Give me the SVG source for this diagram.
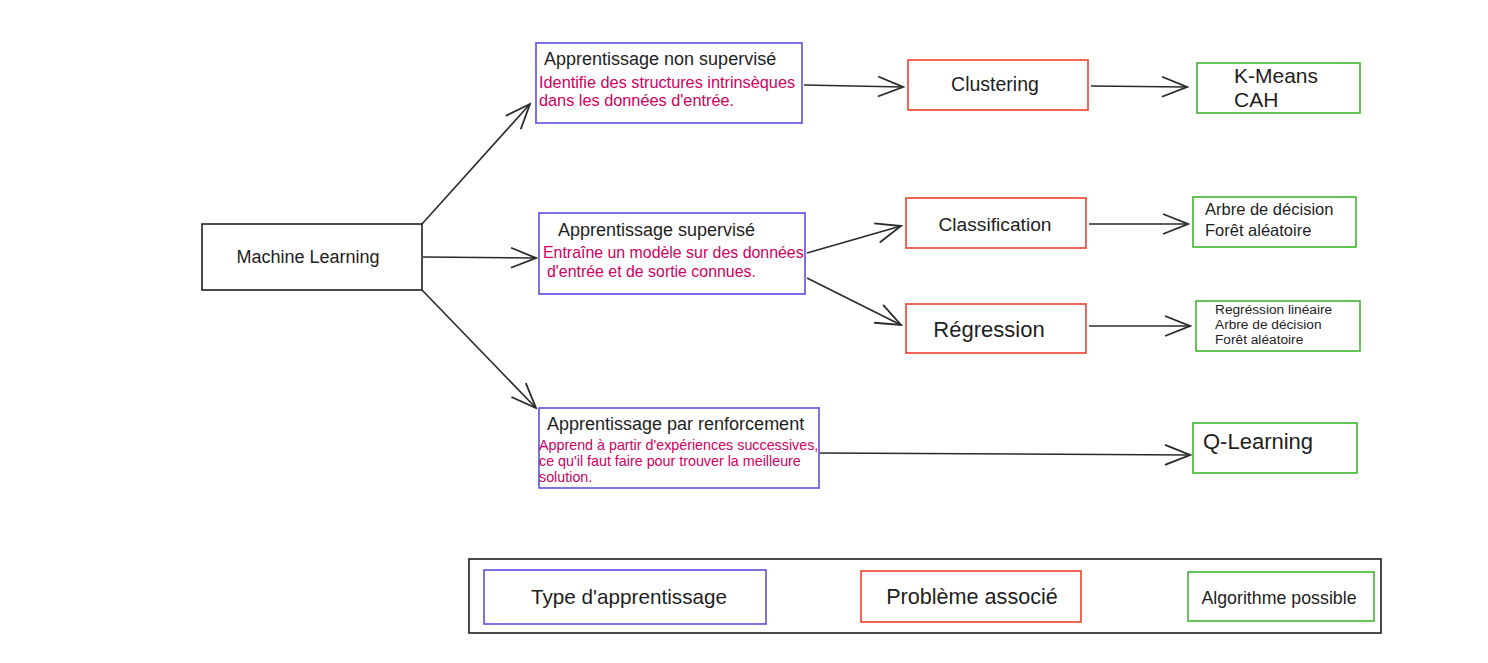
<svg xmlns="http://www.w3.org/2000/svg" width="1488" height="663" viewBox="0 0 1488 663">
<defs>
<style>
text{font-family:"Liberation Sans",Arial,sans-serif;fill:#1e1e1e}
.desc{fill:#d1005e}
.node{fill:none;stroke-width:1.6}
.k{stroke:#1e1e1e}
.b{stroke:#5a4fe0}
.r{stroke:#f0402e}
.g{stroke:#3fb52e}
.mid{text-anchor:middle}
.conn path{fill:none;stroke:#2a2a2a;stroke-width:1.6}
</style>
<marker id="ah" viewBox="-26 -13 28 26" refX="0" refY="0" markerWidth="28" markerHeight="26" markerUnits="userSpaceOnUse" orient="auto">
<path d="M -25 -10 L 0 0 L -25 10" fill="none" stroke="#2a2a2a" stroke-width="1.8"/>
</marker>
</defs>
<rect width="1488" height="663" fill="#ffffff"/>

<g id="connectors" class="conn">
<path d="M 422 224 L 530 104" marker-end="url(#ah)"/>
<path d="M 423 257 L 536 258" marker-end="url(#ah)"/>
<path d="M 422 290 L 536 408" marker-end="url(#ah)"/>
<path d="M 804 85 L 903 87" marker-end="url(#ah)"/>
<path d="M 1091 86 L 1187 87" marker-end="url(#ah)"/>
<path d="M 807 253 L 901 226" marker-end="url(#ah)"/>
<path d="M 807 278 L 901 325" marker-end="url(#ah)"/>
<path d="M 1089 224 L 1188 224" marker-end="url(#ah)"/>
<path d="M 1089 326 L 1190 326" marker-end="url(#ah)"/>
<path d="M 820 453 L 1190 455" marker-end="url(#ah)"/>
</g>

<g id="machine-learning">
<rect class="node k" x="202" y="224" width="220" height="66"/>
<text class="mid" x="308" y="263" font-size="18">Machine Learning</text>
</g>

<g id="non-supervise">
<rect class="node b" x="536" y="43" width="266" height="80"/>
<text x="544" y="65" font-size="18">Apprentissage non supervisé</text>
<text class="desc" x="539" y="88" font-size="16.3">Identifie des structures intrinsèques</text>
<text class="desc" x="539" y="106" font-size="16.3">dans les données d'entrée.</text>
</g>

<g id="supervise">
<rect class="node b" x="539" y="213" width="266" height="81"/>
<text x="558" y="236" font-size="18">Apprentissage supervisé</text>
<text class="desc" x="543" y="258" font-size="15.9">Entraîne un modèle sur des données</text>
<text class="desc" x="547" y="277" font-size="15.9">d'entrée et de sortie connues.</text>
</g>

<g id="renforcement">
<rect class="node b" x="539" y="408" width="280" height="80"/>
<text x="547" y="430" font-size="18">Apprentissage par renforcement</text>
<text class="desc" x="539" y="450" font-size="14.3">Apprend à partir d'expériences successives,</text>
<text class="desc" x="539" y="466" font-size="14.3">ce qu'il faut faire pour trouver la meilleure</text>
<text class="desc" x="539" y="482" font-size="14.3">solution.</text>
</g>

<g id="clustering">
<rect class="node r" x="908" y="60" width="180" height="50"/>
<text class="mid" x="995" y="91" font-size="19.5">Clustering</text>
</g>

<g id="classification">
<rect class="node r" x="906" y="198" width="180" height="50"/>
<text class="mid" x="995" y="231" font-size="19.2">Classification</text>
</g>

<g id="regression">
<rect class="node r" x="906" y="304" width="180" height="49"/>
<text class="mid" x="989" y="337" font-size="22">Régression</text>
</g>

<g id="kmeans">
<rect class="node g" x="1197" y="63" width="163" height="50"/>
<text x="1234" y="83" font-size="21">K-Means</text>
<text x="1234" y="107" font-size="21">CAH</text>
</g>

<g id="arbre-foret">
<rect class="node g" x="1193" y="197" width="163" height="50"/>
<text x="1205" y="215" font-size="16.5">Arbre de décision</text>
<text x="1205" y="236" font-size="16.5">Forêt aléatoire</text>
</g>

<g id="regression-algos">
<rect class="node g" x="1196" y="301" width="164" height="50"/>
<text x="1215" y="314" font-size="13.7">Regréssion linéaire</text>
<text x="1215" y="329" font-size="13.7">Arbre de décision</text>
<text x="1215" y="344" font-size="13.7">Forêt aléatoire</text>
</g>

<g id="q-learning">
<rect class="node g" x="1193" y="423" width="164" height="50"/>
<text x="1203" y="449" font-size="22">Q-Learning</text>
</g>

<g id="legend">
<rect class="node k" x="469" y="559" width="912" height="74"/>
<rect class="node b" x="484" y="570" width="282" height="54"/>
<text class="mid" x="629" y="604" font-size="20.7">Type d'apprentissage</text>
<rect class="node r" x="861" y="571" width="220" height="51"/>
<text class="mid" x="972" y="604" font-size="21.6">Problème associé</text>
<rect class="node g" x="1188" y="572" width="186" height="49"/>
<text class="mid" x="1279" y="604" font-size="17.8">Algorithme possible</text>
</g>
</svg>
